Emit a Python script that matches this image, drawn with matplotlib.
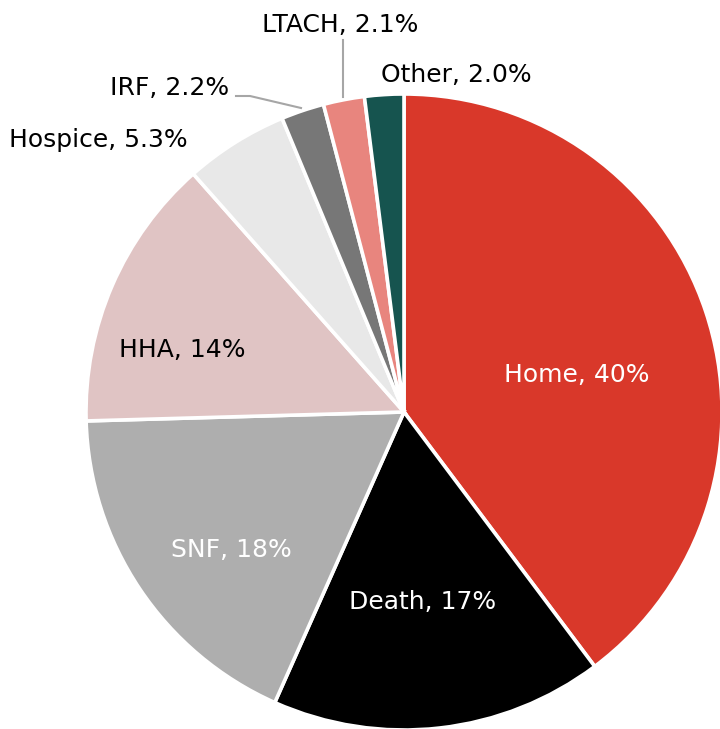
import matplotlib
matplotlib.use("Agg")
import matplotlib.pyplot as plt

# Data
categories = ["Home", "Death", "SNF", "HHA", "Hospice", "IRF", "LTACH", "Other"]
values = [40, 17, 18, 14, 5.3, 2.2, 2.1, 2.0]
value_labels = ["40%", "17%", "18%", "14%", "5.3%", "2.2%", "2.1%", "2.0%"]

# Styles
colors = ["#D9382A", "#000000", "#AEAEAE", "#E0C4C4", "#E8E8E8", "#777777", "#E8857E", "#16544F"]
text_colors = ["white", "white", "white", "black", "black", "black", "black", "black"]

W, H = 720, 729
CX, CY, R = 404, 412, 318  # pixel geometry of the pie

fig = plt.figure(figsize=(W / 100, H / 100), dpi=100)
ax = fig.add_axes([0, 0, 1, 1])

ax.pie(values, colors=colors, startangle=90, counterclock=False,
       radius=1.0, center=(0, 0),
       wedgeprops=dict(edgecolor="white", linewidth=2.6))

ax.set_xlim(-CX / R, (W - CX) / R)
ax.set_ylim(-(H - CY) / R, CY / R)
ax.set_aspect("equal")
ax.axis("off")


def px(x, y):
    return ((x - CX) / R, (CY - y) / R)


label_px = [(577, 375), (423, 602), (231, 550), (182, 350),
            (98, 140), (170, 88), (340, 25), (456, 75)]

for cat, lab, col, (x, y) in zip(categories, value_labels, text_colors, label_px):
    tx, ty = px(x, y)
    ax.text(tx, ty, f"{cat}, {lab}", color=col, fontsize=18,
            family="DejaVu Sans", ha="center", va="center")

# leader lines
lc = "#A6A6A6"
irf = [px(236, 96), px(250, 96), px(301, 108)]
ax.plot([p[0] for p in irf], [p[1] for p in irf], color=lc, lw=1.5)
lt = [px(343, 40), px(343, 97)]
ax.plot([p[0] for p in lt], [p[1] for p in lt], color=lc, lw=1.5)

fig.savefig("out.png", dpi=100)
